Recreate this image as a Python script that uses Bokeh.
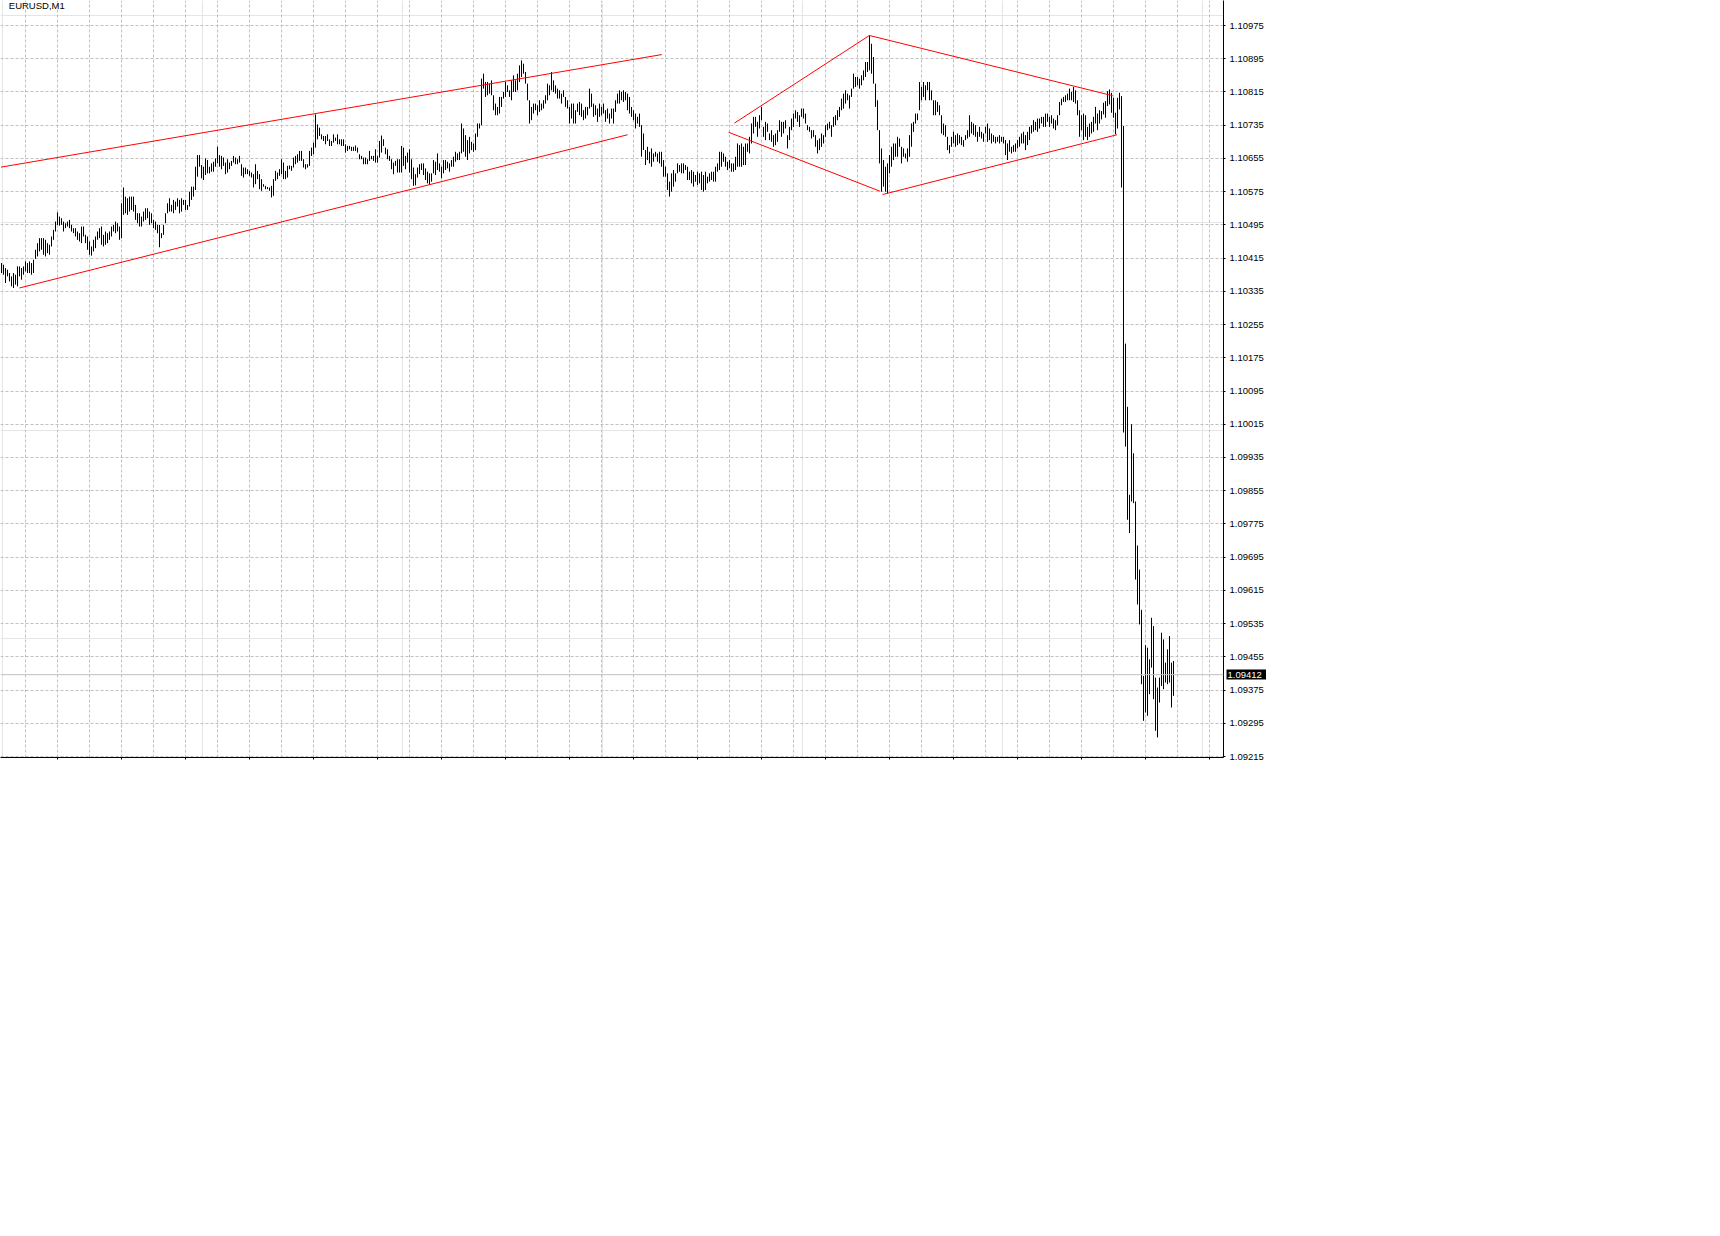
from bokeh.plotting import figure
from bokeh.models import (Range1d, FixedTicker, LinearAxis, PrintfTickFormatter,
                          Label, Span, Grid, ColumnDataSource)
from bokeh.embed import file_html
from bokeh.resources import INLINE

# ---------------- data (EURUSD M1, prices as points above 1.09000) ----------------
symbol = "EURUSD,M1"
base_price = 1.09
point = 0.00001
last_price = 1.09412

high_pts = [
    1403,1399,1391,1387,1379,1371,1379,1375,1395,1395,
    1391,1395,1407,1403,1407,1403,1411,1435,1451,1463,
    1463,1463,1459,1451,1447,1467,1483,1503,1525,1515,
    1511,1503,1499,1503,1507,1495,1487,1487,1479,1475,
    1491,1491,1471,1467,1455,1443,1459,1467,1479,1487,
    1491,1471,1479,1475,1479,1491,1495,1503,1499,1491,
    1547,1585,1563,1559,1563,1563,1563,1543,1523,1523,
    1515,1527,1535,1535,1527,1523,1507,1503,1495,1495,
    1475,1495,1523,1547,1559,1543,1555,1551,1559,1555,
    1559,1555,1555,1543,1575,1587,1587,1635,1663,1663,
    1639,1635,1655,1651,1635,1643,1647,1655,1683,1663,
    1661,1657,1645,1653,1645,1649,1661,1657,1653,1661,
    1641,1633,1633,1629,1625,1621,1617,1641,1625,1617,
    1605,1593,1589,1586,1585,1589,1605,1625,1621,1629,
    1653,1645,1625,1637,1638,1637,1657,1661,1665,1673,
    1673,1653,1641,1641,1673,1681,1693,1761,1737,1729,
    1713,1709,1709,1713,1701,1697,1713,1705,1713,1701,
    1701,1701,1689,1685,1685,1683,1683,1686,1681,1665,
    1661,1657,1657,1653,1673,1661,1661,1677,1661,1697,
    1710,1701,1681,1677,1661,1653,1645,1649,1653,1653,
    1685,1681,1661,1669,1677,1653,1633,1617,1633,1641,
    1643,1643,1631,1623,1619,1619,1651,1647,1667,1643,
    1635,1651,1651,1647,1643,1651,1659,1671,1667,1671,
    1739,1727,1711,1699,1707,1695,1691,1715,1739,1739,
    1847,1859,1839,1839,1835,1843,1807,1787,1779,1803,
    1803,1815,1839,1831,1819,1843,1855,1843,1859,1879,
    1891,1883,1863,1835,1795,1779,1787,1787,1783,1795,
    1787,1795,1807,1835,1831,1863,1843,1831,1823,1819,
    1811,1819,1803,1795,1779,1787,1787,1771,1787,1791,
    1787,1771,1779,1779,1823,1811,1787,1783,1775,1787,
    1779,1787,1771,1775,1763,1775,1775,1795,1811,1819,
    1815,1819,1815,1811,1803,1779,1771,1763,1755,1763,
    1735,1715,1675,1683,1671,1679,1667,1671,1667,1671,
    1671,1651,1635,1619,1599,1619,1627,1619,1643,1639,
    1643,1643,1639,1635,1623,1627,1623,1615,1623,1619,
    1623,1615,1623,1611,1619,1623,1623,1635,1643,1671,
    1671,1667,1659,1647,1651,1643,1643,1659,1691,1687,
    1691,1683,1691,1691,1707,1739,1755,1755,1743,1759,
    1779,1731,1743,1739,1715,1723,1711,1715,1723,1747,
    1743,1743,1747,1711,1731,1751,1763,1771,1767,1759,
    1775,1775,1763,1735,1731,1723,1723,1711,1699,1703,
    1715,1711,1735,1739,1743,1735,1755,1759,1771,1779,
    1799,1811,1819,1811,1807,1823,1859,1851,1851,1847,
    1855,1867,1887,1887,1951,1931,1899,1835,1795,1723,
    1679,1651,1635,1643,1663,1683,1691,1691,1707,1703,
    1683,1679,1667,1679,1711,1739,1743,1763,1763,1839,
    1827,1839,1831,1839,1839,1819,1795,1795,1791,1783,
    1759,1739,1735,1707,1687,1707,1719,1711,1715,1711,
    1707,1699,1711,1723,1759,1743,1739,1735,1719,1731,
    1719,1715,1731,1739,1727,1715,1711,1707,1707,1711,
    1707,1707,1699,1691,1699,1683,1687,1691,1699,1707,
    1715,1719,1711,1719,1731,1735,1747,1743,1751,1751,
    1755,1755,1763,1763,1755,1759,1751,1747,1759,1791,
    1799,1803,1807,1811,1823,1815,1827,1819,1795,1771,
    1759,1763,1759,1731,1739,1743,1755,1779,1763,1771,
    1769,1789,1793,1817,1821,1813,1801,1765,1801,1813,
    1805,1733,1209,1057,845,1015,945,829,723,665,
    568,409,483,477,449,549,529,405,381,405,
    513,497,441,473,505,441,445,
]

low_pts = [
    1379,1375,1355,1371,1359,1347,1343,1351,1347,1371,
    1363,1375,1383,1379,1379,1375,1379,1413,1419,1431,
    1435,1423,1419,1427,1423,1443,1459,1479,1495,1493,
    1495,1479,1487,1491,1487,1479,1475,1467,1459,1455,
    1451,1467,1451,1435,1423,1421,1431,1439,1459,1463,
    1447,1443,1447,1451,1459,1467,1479,1475,1479,1459,
    1463,1519,1523,1519,1527,1531,1527,1507,1499,1491,
    1491,1503,1507,1511,1495,1499,1487,1483,1475,1441,
    1463,1471,1499,1523,1527,1527,1523,1531,1539,1523,
    1527,1543,1531,1531,1539,1555,1563,1579,1611,1635,
    1607,1603,1615,1619,1619,1623,1623,1635,1643,1635,
    1629,1637,1617,1621,1629,1637,1645,1641,1641,1645,
    1613,1609,1617,1617,1613,1609,1585,1593,1605,1581,
    1577,1587,1581,1581,1577,1561,1565,1601,1605,1613,
    1617,1605,1605,1609,1629,1625,1633,1641,1645,1649,
    1649,1633,1629,1633,1637,1661,1665,1681,1701,1709,
    1701,1697,1689,1697,1685,1685,1693,1697,1689,1689,
    1685,1685,1669,1673,1677,1673,1673,1673,1669,1653,
    1653,1641,1641,1641,1649,1653,1649,1645,1645,1657,
    1669,1685,1665,1653,1649,1629,1617,1637,1621,1621,
    1621,1637,1629,1645,1621,1605,1589,1590,1609,1617,
    1627,1615,1603,1595,1591,1599,1619,1615,1627,1623,
    1607,1619,1627,1631,1623,1635,1635,1647,1651,1651,
    1667,1671,1659,1651,1667,1675,1671,1675,1707,1727,
    1735,1823,1803,1807,1811,1807,1771,1759,1759,1763,
    1779,1799,1803,1815,1803,1795,1815,1815,1819,1839,
    1851,1859,1835,1795,1739,1747,1763,1771,1759,1767,
    1771,1775,1787,1795,1807,1819,1815,1811,1799,1799,
    1787,1803,1779,1775,1739,1751,1739,1739,1767,1759,
    1755,1747,1751,1759,1775,1779,1755,1759,1743,1755,
    1759,1763,1743,1751,1739,1751,1739,1767,1787,1787,
    1795,1791,1795,1771,1763,1755,1747,1727,1739,1731,
    1659,1675,1639,1651,1643,1635,1647,1659,1647,1643,
    1635,1611,1611,1579,1563,1575,1587,1599,1619,1623,
    1619,1619,1627,1603,1603,1595,1587,1599,1591,1595,
    1579,1575,1579,1595,1599,1603,1599,1599,1623,1627,
    1635,1647,1635,1627,1631,1623,1623,1627,1635,1635,
    1635,1639,1639,1671,1667,1691,1715,1731,1707,1727,
    1747,1707,1699,1719,1699,1695,1683,1687,1695,1719,
    1707,1715,1727,1679,1699,1723,1731,1751,1743,1731,
    1755,1751,1739,1723,1719,1703,1707,1683,1667,1675,
    1683,1691,1707,1723,1727,1707,1731,1735,1747,1755,
    1771,1775,1787,1795,1775,1803,1823,1827,1831,1823,
    1831,1843,1851,1863,1867,1859,1835,1779,1723,1643,
    1575,1587,1575,1571,1619,1635,1651,1659,1659,1683,
    1643,1659,1655,1647,1659,1683,1719,1739,1747,1771,
    1795,1803,1795,1819,1795,1795,1759,1759,1767,1759,
    1715,1711,1707,1675,1667,1683,1691,1683,1687,1691,
    1687,1683,1699,1703,1707,1715,1711,1707,1695,1707,
    1703,1695,1715,1695,1699,1691,1695,1691,1695,1691,
    1695,1691,1663,1651,1671,1667,1671,1671,1679,1683,
    1691,1691,1675,1687,1699,1715,1719,1723,1719,1727,
    1739,1731,1731,1743,1731,1739,1727,1723,1735,1759,
    1783,1791,1791,1795,1795,1795,1791,1787,1759,1707,
    1723,1699,1707,1699,1707,1715,1719,1739,1723,1739,
    1749,1761,1753,1781,1785,1765,1753,1713,1727,1773,
    1585,995,961,785,753,829,825,641,581,533,
    389,301,321,313,365,429,353,277,261,345,
    385,377,393,389,393,333,361,
]

assert len(high_pts) == len(low_pts) == 587

# trend lines drawn on the chart: (bar index, price in points) endpoints
trend_x0 = [-0.5, 8.7, 366.2, 433.7, 363.3, 440.3]
trend_p0 = [1634, 1343, 1740, 1951, 1718, 1568]
trend_x1 = [329.9, 312.8, 433.7, 555.3, 439.0, 557.5]
trend_p1 = [1905, 1712, 1951, 1806, 1576, 1712]

y_tick_labels = ["1.09215", "1.09295", "1.09375", "1.09455", "1.09535", "1.09615",
                 "1.09695", "1.09775", "1.09855", "1.09935", "1.10015", "1.10095",
                 "1.10175", "1.10255", "1.10335", "1.10415", "1.10495", "1.10575",
                 "1.10655", "1.10735", "1.10815", "1.10895", "1.10975"]

# ---------------- build ----------------
PIX = -0.25  # half-pixel alignment so that 1px lines land on device pixels
bars_x = [i + PIX for i in range(len(high_pts))]
highs = [base_price + h * point for h in high_pts]
lows = [base_price + l * point for l in low_pts]
src = ColumnDataSource(dict(x=bars_x, hi=highs, lo=lows))

tl = ColumnDataSource(dict(
    x0=trend_x0, x1=trend_x1,
    y0=[base_price + v * point for v in trend_p0],
    y1=[base_price + v * point for v in trend_p1]))

y_ticks = [float(s) for s in y_tick_labels]

p = figure(frame_width=1223, frame_height=757, output_backend="svg", toolbar_location=None,
           x_range=Range1d(-0.75, 610.75), y_range=Range1d(1.092126, 1.110352),
           x_axis_location=None, y_axis_location=None,
           min_border_left=0, min_border_top=0, min_border_bottom=30, min_border_right=0)
p.outline_line_color = None
p.background_fill_color = "white"
p.border_fill_color = "white"

grid_x = [12 + 16 * k + PIX for k in range(38)]
axis_x = [28 + 32 * k + PIX for k in range(19)]

gx = Grid(dimension=0, ticker=FixedTicker(ticks=grid_x), grid_line_color="#c0c0c0",
          grid_line_dash="3 2", grid_line_width=1)
gy = Grid(dimension=1, ticker=FixedTicker(ticks=y_ticks), grid_line_color="#c0c0c0",
          grid_line_dash="3 2", grid_line_width=1)
p.add_layout(gx)
p.add_layout(gy)

yax = LinearAxis(ticker=FixedTicker(ticks=y_ticks), formatter=PrintfTickFormatter(format="%.5f"),
                 major_tick_in=0, major_tick_out=2, minor_tick_in=0, minor_tick_out=0,
                 major_label_standoff=4, axis_line_color="black", major_tick_line_color="black",
                 major_label_text_font="Liberation Sans", major_label_text_font_size="9.5px",
                 major_label_text_color="black")
p.add_layout(yax, "right")

# current-price marker: second right axis whose single tick is drawn inward as a
# thick black box reaching back to the price scale, with the white price on top
pax = LinearAxis(ticker=FixedTicker(ticks=[last_price]),
                 formatter=PrintfTickFormatter(format="%.5f"),
                 axis_line_color=None, major_tick_in=40, major_tick_out=0,
                 major_tick_line_width=10, major_tick_line_color="black",
                 major_tick_line_cap="butt", minor_tick_in=0, minor_tick_out=0,
                 major_label_standoff=-39, major_label_text_color="white",
                 major_label_text_font="Liberation Sans", major_label_text_font_size="9.5px")
p.add_layout(pax, "right")

xax = LinearAxis(ticker=FixedTicker(ticks=axis_x), major_tick_in=0, major_tick_out=2,
                 minor_tick_in=0, minor_tick_out=0, axis_line_color="black",
                 major_tick_line_color="black", major_label_overrides={t: "" for t in axis_x},
                 major_label_standoff=0, major_label_text_font_size="1px")
p.add_layout(xax, "below")

p.add_layout(Span(location=last_price, dimension="width", line_color="#c0c0c0", line_width=1))

p.segment(x0="x", y0="lo", x1="x", y1="hi", source=src, line_color="black", line_width=1)
p.segment(x0="x0", y0="y0", x1="x1", y1="y1", source=tl, line_color="#ff0000", line_width=1)

p.add_layout(Label(x=3.4, y=1.11022, text=symbol, text_font="Liberation Sans",
                   text_font_size="9.5px", text_color="black", text_baseline="middle"))

open("out.html", "w").write(file_html(p, INLINE))
